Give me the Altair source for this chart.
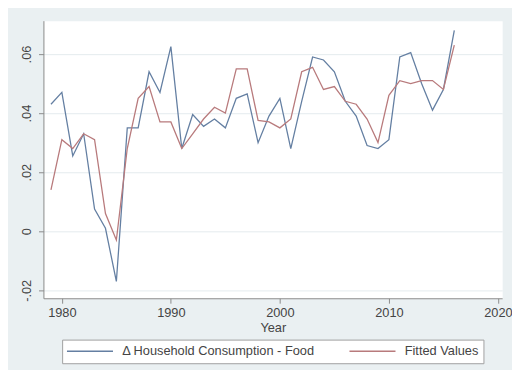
import altair as alt
import pandas as pd

# ---- data ----
years = list(range(1979, 2017))
actual = [0.043, 0.047, 0.0255, 0.033, 0.0075, 0.001, -0.017, 0.035, 0.035, 0.054,
          0.047, 0.0625, 0.028, 0.0395, 0.0355, 0.038, 0.035, 0.045, 0.0465, 0.030,
          0.039, 0.045, 0.028, 0.044, 0.059, 0.058, 0.054, 0.044, 0.039, 0.029,
          0.028, 0.031, 0.059, 0.0605, 0.050, 0.041, 0.048, 0.068]
fitted = [0.014, 0.031, 0.028, 0.033, 0.031, 0.006, -0.003, 0.028, 0.045, 0.049,
          0.037, 0.037, 0.028, 0.033, 0.038, 0.042, 0.040, 0.055, 0.055, 0.0375,
          0.037, 0.035, 0.038, 0.054, 0.0555, 0.048, 0.049, 0.044, 0.043, 0.038,
          0.030, 0.046, 0.051, 0.050, 0.051, 0.051, 0.048, 0.063]
series_names = ["\u0394 Household Consumption - Food", "Fitted Values"]
series_colors = ["#647fa2", "#b87a7c"]
x_ticks = [1980, 1990, 2000, 2010, 2020]
y_ticks = [-0.02, 0.0, 0.02, 0.04, 0.06]
y_tick_labels = ["-.02", "0", ".02", ".04", ".06"]

df = pd.DataFrame({
    "Year": years + years,
    "value": actual + fitted,
    "series": [series_names[0]] * len(years) + [series_names[1]] * len(years),
})

label_array = "[" + ",".join("'" + s + "'" for s in y_tick_labels) + "]"
y_label_expr = label_array + "[round((datum.value + 0.02) / 0.02)]"

FONT = "Liberation Sans"
TXT = "#444444"

chart = alt.Chart(df).mark_line(strokeWidth=1.3).encode(
    x=alt.X("Year:Q",
            scale=alt.Scale(domain=[1978.31, 2020.39], nice=False, zero=False),
            axis=alt.Axis(values=x_ticks, format="d", title="Year", grid=False,
                          tickSize=5, labelPadding=4, titlePadding=2,
                          labelFontSize=13, titleFontSize=13, titleFontWeight="normal",
                          labelFont=FONT, titleFont=FONT, labelColor=TXT, titleColor=TXT,
                          domainColor="#8a8a8a", tickColor="#8a8a8a", labelFlush=False)),
    y=alt.Y("value:Q",
            scale=alt.Scale(domain=[-0.0227, 0.0713], nice=False, zero=False),
            axis=alt.Axis(values=y_ticks, title=None, grid=True, gridColor="#e4ebee",
                          labelExpr=y_label_expr, labelAngle=270, labelAlign="center",
                          labelBaseline="bottom", tickSize=5, labelPadding=5,
                          labelFontSize=13, labelFont=FONT, labelColor=TXT,
                          domainColor="#8a8a8a", tickColor="#8a8a8a", labelFlush=False)),
    color=alt.Color("series:N",
                    scale=alt.Scale(domain=series_names, range=series_colors),
                    legend=alt.Legend(title=None, orient="none", legendX=19, legendY=324,
                                      direction="horizontal", columns=2,
                                      symbolType="M-1.2,0H7.3", symbolSize=121,
                                      symbolStrokeWidth=1.5, labelOffset=43,
                                      columnPadding=31, padding=5,
                                      fillColor="white", strokeColor="#a0a0a0",
                                      labelFontSize=13, labelFont=FONT, labelColor=TXT,
                                      labelLimit=400)),
).properties(
    width=466, height=282,
    autosize=alt.AutoSizeParams(type="none"),
    padding={"left": 36, "top": 10, "right": 10, "bottom": 70},
    background="#eaf0f2",
).configure_view(fill="white", stroke="transparent")

chart.save("out.html", embed_options={"renderer": "svg", "actions": False})
